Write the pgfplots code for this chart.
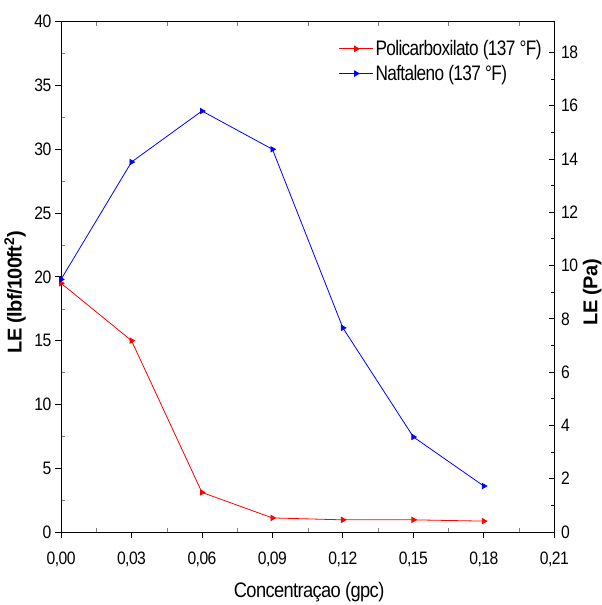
\documentclass[border=0pt]{standalone}
\usepackage{fontspec}
\setmainfont{Liberation Sans}[LetterSpace=-3]
\newfontfamily\cond{Liberation Sans}[FakeStretch=0.87, LetterSpace=-3]
\newfontfamily\condl{Liberation Sans}[FakeStretch=0.82, LetterSpace=-3]
\usepackage{pgfplots}
\pgfplotsset{compat=1.18}
\begin{document}
\begin{tikzpicture}
\useasboundingbox (-61pt,-73pt) rectangle (540pt,531.7pt);
\pgfplotsset{common/.style={scale only axis, width=493pt, height=510pt,
  at={(0pt,0pt)}, anchor=south west, xmin=0, xmax=0.21,
  every axis/.append style={line width=0.9pt},
  ticklabel style={font=\cond\fontsize{18}{18}\selectfont},
  /pgf/number format/assume math mode=true,
  /pgf/number format/use comma}}
% minor ticks pointing inside
\begin{axis}[common, ymin=0, ymax=40,
  xtick={0,0.03,0.06,0.09,0.12,0.15,0.18,0.21}, minor x tick num=1,
  ytick={0,5,...,40}, minor y tick num=1,
  xticklabels={}, yticklabels={},
  tick align=inside, major tick length=0pt, minor tick length=4pt,
  xtick pos=both, ytick pos=left, axis line style={draw=none}]
\end{axis}
% main axis
\begin{axis}[common, ymin=0, ymax=40,
  xtick={0,0.03,0.06,0.09,0.12,0.15,0.18,0.21},
  ytick={0,5,...,40},
  xticklabel={\pgfmathprintnumber[fixed,fixed zerofill,precision=2,use comma]{\tick}},
  xticklabel style={yshift=-10pt},
  yticklabel style={/pgf/number format/fixed},
  tick align=outside, major tick length=6pt,
  xtick pos=bottom, ytick pos=left,
  tick style={line width=0.9pt, black},
  xlabel={Concentraçao (gpc)},
  ylabel={\bfseries LE (lbf/100ft\textsuperscript{2})},
  xlabel style={font=\cond\fontsize{21}{21}\selectfont, at={(axis description cs:0.503,-0.118)}, anchor=center},
  ylabel style={font=\fontsize{20}{20}\selectfont, at={(axis description cs:-0.0933,0.47)}, anchor=center, rotate=0},
  legend style={draw=none, fill=none, at={(axis description cs:0.562,0.968)}, anchor=north west,
    font=\condl\fontsize{21}{21}\selectfont, row sep=4pt, inner sep=0pt,
    /tikz/every even column/.append style={column sep=4pt}},
  legend cell align=left,
  legend image code/.code={\draw[mark repeat=2,mark phase=2,#1] plot coordinates {(0pt,0pt) (17pt,0pt) (34pt,0pt)};},
  every axis plot/.append style={line width=0.8pt}]
\addplot[color=red, mark=triangle*, mark size=3pt, mark options={rotate=-90}] coordinates {
(0,19.5) (0.03,15) (0.06,3.1) (0.09,1.1) (0.12,0.95) (0.15,0.95) (0.18,0.85)};
\addlegendentry{Policarboxilato (137 °F)}
\addplot[color=blue, mark=triangle*, mark size=3pt, mark options={rotate=-90}] coordinates {
(0,19.8) (0.03,29) (0.06,33) (0.09,30) (0.12,16) (0.15,7.45) (0.18,3.6)};
\addlegendentry{Naftaleno (137 °F)}
\end{axis}
% right axis
\begin{axis}[common, ymin=0, ymax=19.152,
  axis x line=none, axis y line*=right,
  ytick={0,2,...,18}, minor y tick num=1,
  tick align=inside, major tick length=5pt, minor tick length=3pt,
  tick style={line width=0.9pt, black},
  ylabel={\bfseries LE (Pa)},
  ylabel style={font=\fontsize{20}{20}\selectfont, at={(axis description cs:1.077,0.47)}, anchor=center, rotate=0},
  yticklabel style={xshift=3pt}]
\end{axis}
\end{tikzpicture}
\end{document}
